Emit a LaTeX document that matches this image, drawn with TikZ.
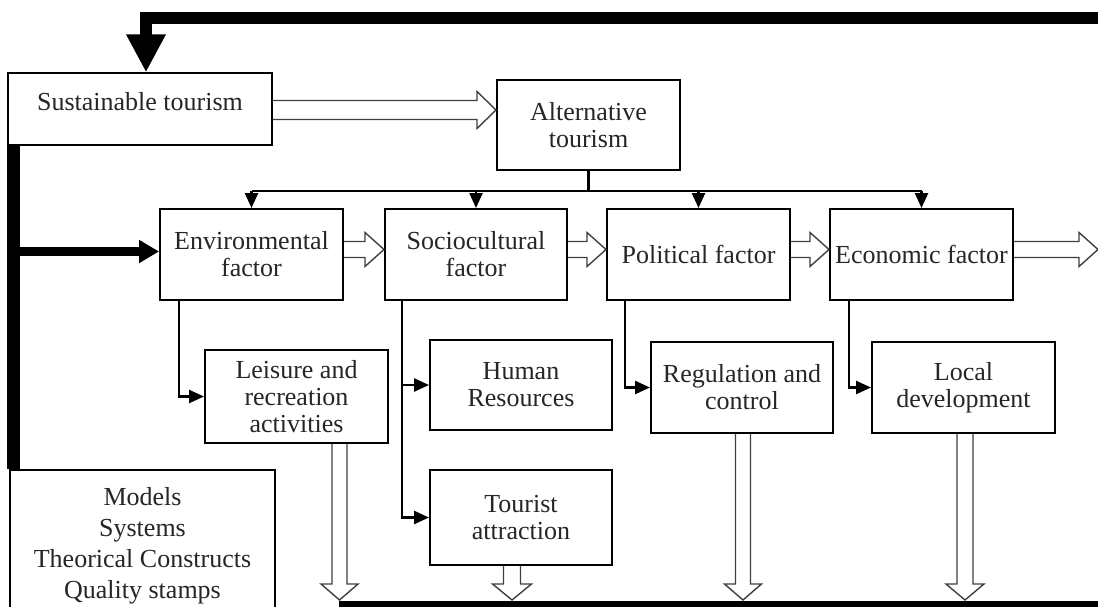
\documentclass[tikz,border=0pt]{standalone}
\usepackage{fontspec}
\setmainfont{Liberation Serif}
\usetikzlibrary{arrows.meta,calc}

\newcommand\hollowH[3]{%
  \draw[hollow] let \p1=#1, \p2=#2 in
    (\x1,\y1+#3) -- (\x2-19pt,\y1+#3) -- (\x2-19pt,\y1+#3+9pt) -- (\x2,\y1)
    -- (\x2-19pt,\y1-#3-9pt) -- (\x2-19pt,\y1-#3) -- (\x1,\y1-#3);}
\newcommand\hollowV[3]{%
  \draw[hollow] let \p1=#1, \p2=#2 in
    (\x1-#3,\y1) -- (\x1-#3,\y2+16pt) -- (\x1-#3-11pt,\y2+16pt) -- (\x1,\y2)
    -- (\x1+#3+11pt,\y2+16pt) -- (\x1+#3,\y2+16pt) -- (\x1+#3,\y1);}

\begin{document}
\begin{tikzpicture}[x=1pt,y=-1pt,
  box/.style={draw=black, line width=2pt, align=center, inner sep=0pt,
    font=\fontsize{26}{27}\selectfont, text=black!85},
  thinbox/.style={box, line width=1.3pt},
  hollow/.style={draw=black!75, line width=1.4pt, line join=miter},
  conn/.style={draw=black, line width=2.5pt},
  tip/.style={-{Triangle[width=13pt,length=15pt]}}]
\useasboundingbox (0,0) rectangle (1098,607);
\fill[white] (0,0) rectangle (1098,607);

% nodes
\node[thinbox, minimum width=264pt, minimum height=72pt, text depth=16pt] (sus) at (140,109) {Sustainable tourism};
\node[box, minimum width=183pt, minimum height=90pt] (alt) at (588.5,125) {Alternative\\tourism};
\node[box, minimum width=183pt, minimum height=91pt] (env) at (251.5,254.5) {Environmental\\factor};
\node[box, minimum width=182pt, minimum height=91pt] (soc) at (476,254.5) {Sociocultural\\factor};
\node[box, minimum width=183pt, minimum height=91pt] (pol) at (698.5,254.5) {Political factor};
\node[box, minimum width=183pt, minimum height=91pt] (eco) at (921.5,254.5) {Economic factor};
\node[box, minimum width=183pt, minimum height=93pt] (lei) at (296.5,396.5) {Leisure and\\recreation\\activities};
\node[box, minimum width=182pt, minimum height=90pt] (hum) at (521,385) {Human\\Resources};
\node[box, minimum width=182pt, minimum height=95pt] (tou) at (521,517.5) {Tourist\\attraction};
\node[box, minimum width=182pt, minimum height=91pt] (reg) at (742,387.5) {Regulation and\\control};
\node[box, minimum width=183pt, minimum height=91pt] (loc) at (963.5,387.5) {Local\\development};
\node[thinbox, minimum width=265pt, minimum height=152pt, font=\fontsize{26}{31}\selectfont] (mod) at (142.5,546) {Models\\Systems\\Theorical Constructs\\Quality stamps};

% top feedback line
\coordinate (tr) at (1104,18);
\coordinate (tl) at (146,18);
\draw[line width=12pt, line join=miter, -{Triangle[width=37pt,length=38pt]}] (tr) -- (tl) -- (tl |- sus.north);

% left thick line and arrow
\coordinate (lvtop) at ($(sus.south west)+(6.5,0)$);
\draw[line width=13pt] (lvtop) -- (lvtop |- mod.north);
\coordinate (envin) at ($(env.west)+(0,-3)$);
\draw[line width=9pt, -{Triangle[width=22pt,length=20pt]}] (lvtop |- envin) -- (envin);

% alternative -> factors tree
\coordinate (tj) at (588.5,191);
\draw[conn] (alt.south) -- (alt.south |- tj);
\draw[conn] (env.north |- tj) -- (eco.north |- tj);
\foreach \n in {env,soc,pol,eco}{
  \draw[conn, tip] (\n.north |- tj) -- (\n.north);
}

% factor -> sub boxes
\draw[conn, tip] ($(env.south west)+(20,0)$) |- (lei.west);
\draw[conn, tip] ($(soc.south west)+(18,0)$) |- (hum.west);
\draw[conn, tip] ($(soc.south west)+(18,0)$) |- (tou.west);
\draw[conn, tip] ($(pol.south west)+(19,0)$) |- (reg.west);
\draw[conn, tip] ($(eco.south west)+(20,0)$) |- (loc.west);

% hollow horizontal arrows
\hollowH{($(sus.east)+(0,1)$)}{(alt.west)}{9.5pt}
\hollowH{($(env.east)+(0,-5)$)}{(soc.west)}{8pt}
\hollowH{($(soc.east)+(0,-5)$)}{(pol.west)}{8pt}
\hollowH{($(pol.east)+(0,-5)$)}{(eco.west)}{8pt}
\coordinate (rightend) at (1098,249);
\hollowH{($(eco.east)+(0,-5)$)}{(rightend)}{8pt}

% bottom line and hollow vertical arrows
\coordinate (bl) at (339,604.5);
\coordinate (br) at (1104,604.5);
\coordinate (tipline) at (0,600);
\hollowV{($(lei.south)+(43,0)$)}{(tipline)}{7.5pt}
\hollowV{($(tou.south)+(-9,0)$)}{(tipline)}{8.5pt}
\hollowV{($(reg.south)+(1,0)$)}{(tipline)}{7.5pt}
\hollowV{($(loc.south)+(1.5,0)$)}{(tipline)}{8pt}
\draw[line width=7pt] (bl) -- (br);
\end{tikzpicture}
\end{document}
